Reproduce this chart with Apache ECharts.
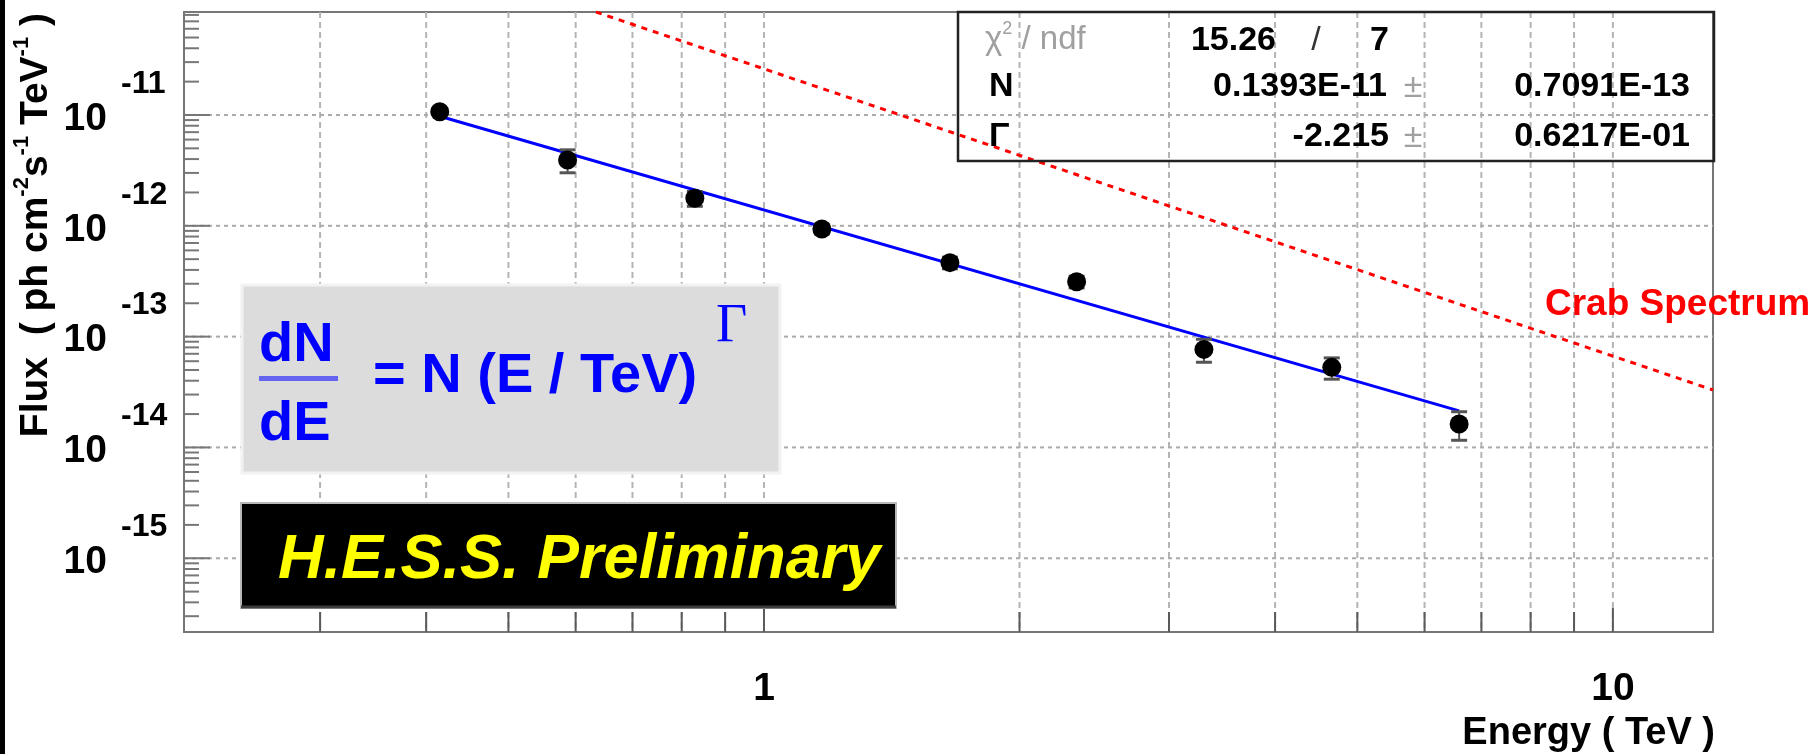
<!DOCTYPE html>
<html><head><meta charset="utf-8">
<script src="https://cdn.jsdelivr.net/npm/echarts@6/dist/echarts.min.js"></script>
<style>html,body{margin:0;padding:0;background:#fff}#c{width:1818px;height:754px}</style>
</head><body><div id="c"></div>
<script>
// ---- data ----
const energies   = [0.415, 0.587, 0.829, 1.170, 1.656, 2.335, 3.298, 4.665, 6.59];          // TeV
const fluxes     = [1.071e-11, 3.93e-12, 1.77e-12, 9.35e-13, 4.65e-13, 3.13e-13, 7.67e-14, 5.28e-14, 1.63e-14];
const fluxErrors = [0.6e-12, 0.92e-12, 0.27e-12, 0.9e-13, 0.56e-13, 0.38e-13, 1.8e-14, 1.15e-14, 0.47e-14];
const fitLine    = [[0.415, 9.75e-12], [6.59, 2.14e-14]];
const crabLine   = [[0.634, 8.5e-11], [13.12, 3.3e-14]];
const xRange     = [0.2074, 13.12];
const yRange     = [2.16e-16, 8.5e-11];
const xGridTicks = [0.3, 0.4, 0.5, 0.6, 0.7, 0.8, 0.9, 1, 2, 3, 4, 5, 6, 7, 8, 9, 10];
const xMajorTicks = [1, 10];
const xTickLabels = ['1', '10'];
const yMajorTicks = [1e-11, 1e-12, 1e-13, 1e-14, 1e-15];
const yTickExponents = ['-11', '-12', '-13', '-14', '-15'];
const yMinorMantissas = [2, 3, 4, 5, 6, 7, 8, 9];
const yMinorDecades = [-16, -15, -14, -13, -12, -11];
const statChi2 = '15.26', statNdf = '7';
const statN = '0.1393E-11', statNErr = '0.7091E-13';
const statGamma = '-2.215', statGammaErr = '0.6217E-01';
const xTitle = 'Energy ( TeV )';
const crabLabel = 'Crab Spectrum';
const hessLabel = 'H.E.S.S. Preliminary';

const FF = '"Liberation Sans", Arial, Helvetica, sans-serif';
const yMinorTicks = [];
yMinorDecades.forEach(d => yMinorMantissas.forEach(m => {
  const v = m * Math.pow(10, d);
  if (v > yRange[0] && v < yRange[1]) yMinorTicks.push(v);
}));

const chart = echarts.init(document.getElementById('c'), null, {renderer: 'canvas'});

const option = {
  animation: false,
  backgroundColor: '#ffffff',
  grid: {left: 184, top: 12, right: 105, bottom: 122, show: true, borderColor: '#767676', borderWidth: 2, backgroundColor: '#fff'},
  xAxis: {type: 'log', logBase: 10, min: xRange[0], max: xRange[1], show: false},
  yAxis: {type: 'log', logBase: 10, min: yRange[0], max: yRange[1], show: false},
  series: [
    { // vertical grid lines + x ticks
      type: 'custom', silent: true, z: 1,
      data: xGridTicks.map(v => [v, 1e-13]),
      encode: {x: 0, y: 1},
      renderItem: function (params, api) {
        const cs = params.coordSys;
        const v = api.value(0);
        const x = api.coord([v, 1e-13])[0];
        const bottom = cs.y + cs.height;
        const major = xMajorTicks.indexOf(v) >= 0;
        return {type: 'group', children: [
          {type: 'line', shape: {x1: x, y1: cs.y, x2: x, y2: bottom}, style: {stroke: '#b4b4b4', lineWidth: 2, lineDash: [6, 4]}},
          {type: 'line', shape: {x1: x, y1: bottom, x2: x, y2: bottom - (major ? 24 : 20)}, style: {stroke: '#5a5a5a', lineWidth: 2}}
        ]};
      }
    },
    { // x tick labels
      type: 'custom', silent: true, z: 1,
      data: xMajorTicks.map(v => [v, 1e-13]),
      encode: {x: 0, y: 1},
      renderItem: function (params, api) {
        const cs = params.coordSys;
        const x = api.coord([api.value(0), 1e-13])[0];
        return {type: 'text', style: {text: xTickLabels[params.dataIndex], x: x, y: cs.y + cs.height + 57,
          align: 'center', verticalAlign: 'middle', font: 'bold 39px ' + FF, fill: '#000'}};
      }
    },
    { // y major grid + ticks + labels
      type: 'custom', silent: true, z: 1,
      data: yMajorTicks.map(v => [1, v]),
      encode: {x: 0, y: 1},
      renderItem: function (params, api) {
        const cs = params.coordSys;
        const y = api.coord([1, api.value(1)])[1];
        return {type: 'group', children: [
          {type: 'line', shape: {x1: cs.x, y1: y, x2: cs.x + cs.width, y2: y}, style: {stroke: '#aaaaaa', lineWidth: 2, lineDash: [4, 4]}},
          {type: 'line', shape: {x1: cs.x, y1: y, x2: cs.x + 26, y2: y}, style: {stroke: '#777777', lineWidth: 2}},
          {type: 'text', style: {text: '10', x: cs.x - 77, y: y + 4, align: 'right', verticalAlign: 'middle', font: 'bold 39px ' + FF, fill: '#000'}},
          {type: 'text', style: {text: yTickExponents[params.dataIndex], x: cs.x - 63, y: y - 31, align: 'left', verticalAlign: 'middle', font: 'bold 32px ' + FF, fill: '#000'}}
        ]};
      }
    },
    { // y minor ticks
      type: 'custom', silent: true, z: 1,
      data: yMinorTicks.map(v => [1, v]),
      encode: {x: 0, y: 1},
      renderItem: function (params, api) {
        const cs = params.coordSys;
        const y = api.coord([1, api.value(1)])[1];
        return {type: 'line', shape: {x1: cs.x, y1: y, x2: cs.x + 15, y2: y}, style: {stroke: '#777777', lineWidth: 2}};
      }
    },
    { // Crab spectrum
      type: 'line', data: crabLine, symbol: 'none', silent: true, z: 3,
      lineStyle: {color: '#ff0000', width: 3, type: [6, 6]}
    },
    { // power-law fit
      type: 'line', data: fitLine, symbol: 'none', silent: true, z: 3,
      lineStyle: {color: '#0000ff', width: 3}
    },
    { // error bars
      type: 'custom', silent: true, z: 4,
      data: energies.map((e, i) => [e, fluxes[i] - fluxErrors[i], fluxes[i] + fluxErrors[i]]),
      encode: {x: 0, y: [1, 2]},
      renderItem: function (params, api) {
        const e = api.value(0);
        const pLo = api.coord([e, api.value(1)]);
        const pHi = api.coord([e, api.value(2)]);
        const cw = 8;
        return {type: 'group', children: [
          {type: 'line', shape: {x1: pLo[0], y1: pLo[1], x2: pHi[0], y2: pHi[1]}, style: {stroke: '#555555', lineWidth: 2}},
          {type: 'line', shape: {x1: pLo[0] - cw, y1: pLo[1], x2: pLo[0] + cw, y2: pLo[1]}, style: {stroke: '#555555', lineWidth: 3}},
          {type: 'line', shape: {x1: pHi[0] - cw, y1: pHi[1], x2: pHi[0] + cw, y2: pHi[1]}, style: {stroke: '#555555', lineWidth: 3}}
        ]};
      }
    },
    { // data points
      type: 'scatter', silent: true, z: 5,
      data: energies.map((e, i) => [e, fluxes[i]]),
      symbol: 'circle', symbolSize: 19,
      itemStyle: {color: '#000000', opacity: 1}
    }
  ],
  graphic: [
    // left black bar
    {type: 'rect', z: 100, shape: {x: 0, y: 0, width: 5, height: 754}, style: {fill: '#000'}},
    // y axis title
    {type: 'text', z: 100, x: 36, y: 13, rotation: Math.PI / 2,
      style: {text: '{m|Flux  ( ph cm}{s|-2}{m|s}{s|-1}{m| TeV}{s|-1}{m| )}', align: 'right', verticalAlign: 'middle',
        rich: {
          m: {fontSize: 39, fontWeight: 'bold', fontFamily: FF, fill: '#000', lineHeight: 50, verticalAlign: 'middle'},
          s: {fontSize: 22, fontWeight: 'bold', fontFamily: FF, fill: '#000', lineHeight: 20, verticalAlign: 'top'}
        }}},
    // x axis title
    {type: 'text', z: 100, style: {text: xTitle, x: 1715, y: 734, align: 'right', verticalAlign: 'middle', font: 'bold 38px ' + FF, fill: '#000'}},
    // Crab label
    {type: 'text', z: 100, style: {text: crabLabel, x: 1545, y: 305, align: 'left', verticalAlign: 'middle', font: 'bold 37px ' + FF, fill: '#ff0000'}},
    // stats box
    {type: 'rect', z: 100, shape: {x: 958, y: 12, width: 756, height: 149}, style: {fill: 'none', stroke: '#222', lineWidth: 2.5}},
    {type: 'text', z: 100, style: {text: '{a|χ}{s|2}{a| / ndf}', x: 985, y: 40, align: 'left', verticalAlign: 'middle',
      rich: {a: {fontSize: 33, fontFamily: FF, fill: '#a0a0a0', lineHeight: 40, verticalAlign: 'middle'},
             s: {fontSize: 18, fontFamily: FF, fill: '#a0a0a0', lineHeight: 18, verticalAlign: 'top'}}}},
    {type: 'text', z: 100, style: {text: statChi2, x: 1276, y: 41, align: 'right', verticalAlign: 'middle', font: 'bold 34px ' + FF, fill: '#000'}},
    {type: 'text', z: 100, style: {text: '/', x: 1316, y: 41, align: 'center', verticalAlign: 'middle', font: '34px ' + FF, fill: '#333'}},
    {type: 'text', z: 100, style: {text: statNdf, x: 1389, y: 41, align: 'right', verticalAlign: 'middle', font: 'bold 34px ' + FF, fill: '#000'}},
    {type: 'text', z: 100, style: {text: 'N', x: 989, y: 87, align: 'left', verticalAlign: 'middle', font: 'bold 34px ' + FF, fill: '#000'}},
    {type: 'text', z: 100, style: {text: statN, x: 1387, y: 87, align: 'right', verticalAlign: 'middle', font: 'bold 34px ' + FF, fill: '#000'}},
    {type: 'text', z: 100, style: {text: '±', x: 1413, y: 88, align: 'center', verticalAlign: 'middle', font: '34px ' + FF, fill: '#a0a0a0'}},
    {type: 'text', z: 100, style: {text: statNErr, x: 1690, y: 87, align: 'right', verticalAlign: 'middle', font: 'bold 34px ' + FF, fill: '#000'}},
    {type: 'text', z: 100, style: {text: 'Γ', x: 989, y: 137, align: 'left', verticalAlign: 'middle', font: 'bold 34px ' + FF, fill: '#000'}},
    {type: 'text', z: 100, style: {text: statGamma, x: 1389, y: 137, align: 'right', verticalAlign: 'middle', font: 'bold 34px ' + FF, fill: '#000'}},
    {type: 'text', z: 100, style: {text: '±', x: 1413, y: 138, align: 'center', verticalAlign: 'middle', font: '34px ' + FF, fill: '#a0a0a0'}},
    {type: 'text', z: 100, style: {text: statGammaErr, x: 1690, y: 137, align: 'right', verticalAlign: 'middle', font: 'bold 34px ' + FF, fill: '#000'}},
    // formula box
    {type: 'rect', z: 100, shape: {x: 242, y: 285, width: 538, height: 188}, style: {fill: '#dcdcdc', stroke: '#f2f2f2', lineWidth: 3}},
    {type: 'text', z: 101, style: {text: 'dN', x: 259, y: 346, align: 'left', verticalAlign: 'middle', font: 'bold 56px ' + FF, fill: '#0000ff'}},
    {type: 'rect', z: 101, shape: {x: 259, y: 376, width: 79, height: 5}, style: {fill: '#6464f0'}},
    {type: 'text', z: 101, style: {text: 'dE', x: 259, y: 425, align: 'left', verticalAlign: 'middle', font: 'bold 56px ' + FF, fill: '#0000ff'}},
    {type: 'text', z: 101, style: {text: '= N (E / TeV)', x: 373, y: 377, align: 'left', verticalAlign: 'middle', font: 'bold 56px ' + FF, fill: '#0000ff'}},
    {type: 'text', z: 101, style: {text: 'Γ', x: 716, y: 327, align: 'left', verticalAlign: 'middle', font: '54px "Liberation Serif", "DejaVu Serif", serif', fill: '#0000ff'}},
    // HESS box
    {type: 'rect', z: 100, shape: {x: 241, y: 503, width: 655, height: 105}, style: {fill: '#000', stroke: '#b8b8b8', lineWidth: 2}},
    {type: 'line', z: 101, shape: {x1: 241, y1: 607, x2: 896, y2: 607}, style: {stroke: '#3c3c3c', lineWidth: 3}},
    {type: 'text', z: 101, style: {text: hessLabel, x: 278, y: 561, align: 'left', verticalAlign: 'middle', font: 'italic bold 63px ' + FF, fill: '#ffff00'}}
  ]
};
chart.setOption(option);
</script>
</body></html>
